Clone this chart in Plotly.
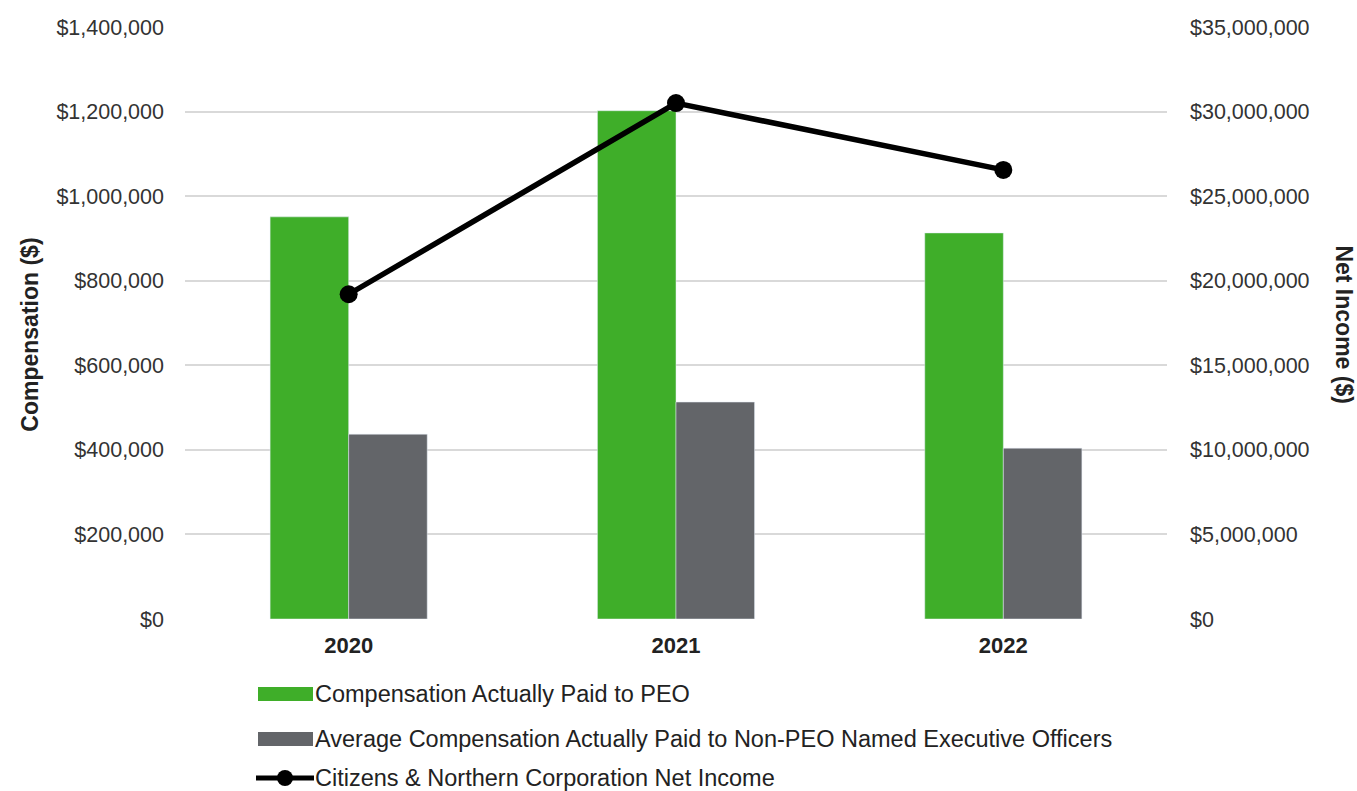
import plotly.graph_objects as go

years = ["2020", "2021", "2022"]
peo_cap = [951000, 1202000, 913000]
neo_avg_cap = [437000, 513000, 404000]
net_income = [19200000, 30500000, 26550000]

GREEN = "#3fae29"
GRAY = "#636569"
TEXT = "#333333"
FONT = "Liberation Sans, Arial, sans-serif"

fig = go.Figure()
fig.add_trace(go.Bar(x=years, y=peo_cap, name="Compensation Actually Paid to PEO",
                     marker_color=GREEN, showlegend=False))
fig.add_trace(go.Bar(x=years, y=neo_avg_cap,
                     name="Average Compensation Actually Paid to Non-PEO Named Executive Officers",
                     marker_color=GRAY, showlegend=False))
fig.add_trace(go.Scatter(x=years, y=net_income, yaxis="y2", mode="lines+markers",
                         name="Citizens & Northern Corporation Net Income",
                         line=dict(color="black", width=5.5),
                         marker=dict(color="black", size=18), showlegend=False))

fig.update_layout(
    width=1357, height=791,
    paper_bgcolor="white", plot_bgcolor="white",
    margin=dict(l=185, r=190, t=27, b=172),
    barmode="group", bargap=0.52, bargroupgap=0,
    font=dict(family=FONT, color=TEXT),
    xaxis=dict(showgrid=False, showline=False, ticks="",
               tickfont=dict(size=22, color="#222222", family=FONT, weight="bold"),
               ticklabelstandoff=11),
    yaxis=dict(range=[0, 1400000], dtick=200000, tickprefix="$", tickformat=",",
               showgrid=True, gridcolor="#d9d9d9", gridwidth=1.5, zeroline=False,
               showline=False, ticks="", tickfont=dict(size=21.5, color=TEXT),
               ticklabelstandoff=20),
    yaxis2=dict(range=[0, 35000000], dtick=5000000, tickprefix="$", tickformat=",",
                overlaying="y", side="right", showgrid=False, zeroline=False,
                showline=False, ticks="", tickfont=dict(size=21.5, color=TEXT),
                ticklabelstandoff=22),
)

# Axis titles
fig.add_annotation(text="<b>Compensation ($)</b>", xref="paper", yref="paper",
                   x=-0.158, y=0.48, xanchor="center", yanchor="middle",
                   textangle=-90, showarrow=False, font=dict(size=23, color="#222222"))
fig.add_annotation(text="<b>Net Income ($)</b>", xref="paper", yref="paper",
                   x=1.18, y=0.498, xanchor="center", yanchor="middle",
                   textangle=90, showarrow=False, font=dict(size=23, color="#222222"))

# Legend below the plot
legend_items = [
    ("bar", GREEN, "Compensation Actually Paid to PEO", 694),
    ("bar", GRAY, "Average Compensation Actually Paid to Non-PEO Named Executive Officers", 739),
    ("line", "black", "Citizens & Northern Corporation Net Income", 778),
]
for kind, color, label, ypix in legend_items:
    if kind == "bar":
        fig.add_shape(type="rect", xref="paper", yref="paper",
                      x0=(258 - 185) / 982, x1=(313 - 185) / 982,
                      y0=(619 - ypix - 7) / 592, y1=(619 - ypix + 7) / 592,
                      fillcolor=color, line=dict(width=0))
    else:
        fig.add_shape(type="line", xref="paper", yref="paper",
                      x0=(256 - 185) / 982, x1=(314 - 185) / 982,
                      y0=(619 - ypix) / 592, y1=(619 - ypix) / 592,
                      line=dict(color=color, width=5))
        fig.add_shape(type="circle", xref="paper", yref="paper",
                      x0=(277 - 185) / 982, x1=(293 - 185) / 982,
                      y0=(619 - ypix - 8) / 592, y1=(619 - ypix + 8) / 592,
                      fillcolor=color, line=dict(width=0))
    fig.add_annotation(text=label, xref="paper", yref="paper",
                       x=(313 - 185) / 982, y=(619 - ypix) / 592,
                       xanchor="left", yanchor="middle", showarrow=False,
                       font=dict(size=23.5, color="#222222"))

fig.write_html("out.html")
